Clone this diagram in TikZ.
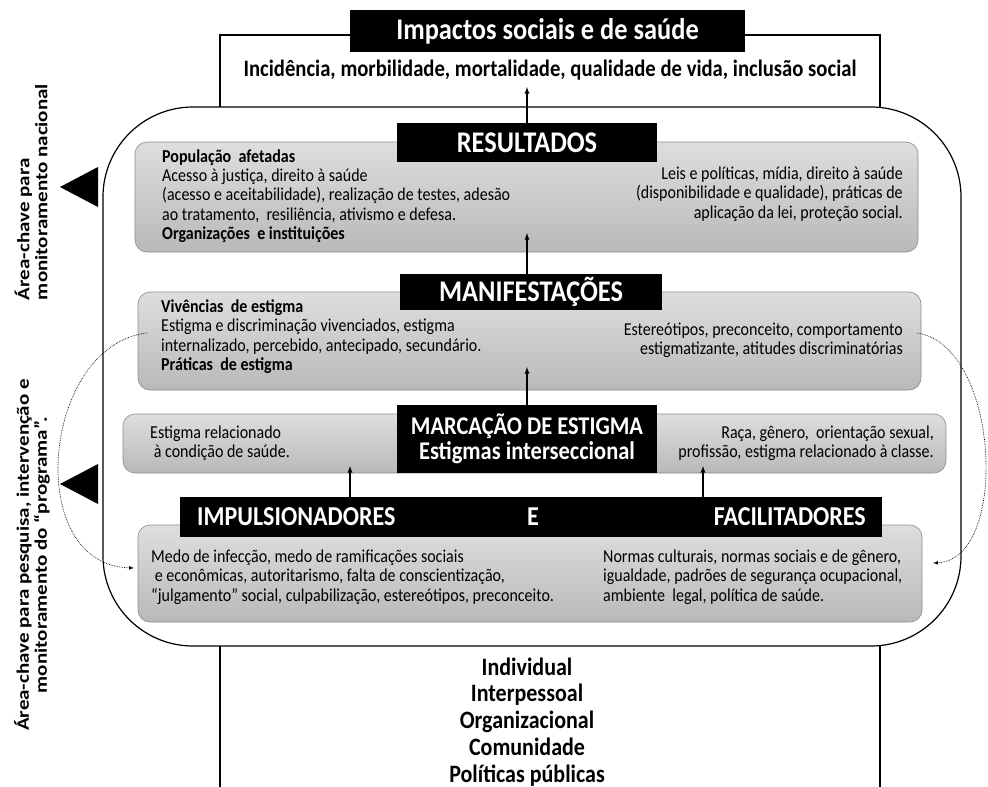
\documentclass[tikz,border=0pt]{standalone}
\usepackage{fontspec}
\setmainfont{Carlito}[FakeStretch=0.88]
\newfontfamily\sidefont{Carlito}[FakeStretch=1.2]
\usetikzlibrary{positioning}
\begin{document}
    \begin{tikzpicture}[x=1pt, y=-1pt,
        headbox/.style={fill=black, text=white, inner sep=0pt, font=\bfseries\fontsize{30}{34}\selectfont},
        graybox/.style={draw=gray!90, line width=0.6pt, rounded corners=12pt, top color=gray!26, bottom color=gray!55, inner sep=0pt},
        bodytext/.style={inner sep=0pt, font=\fontsize{18.2}{19.3}\selectfont},
        listtext/.style={inner sep=0pt, anchor=base, font=\bfseries\fontsize{25}{27}\selectfont},
        sidetext/.style={inner sep=0pt, rotate=90, font=\sidefont\bfseries\fontsize{17.5}{18}\selectfont},
        uparrow/.style={-latex, line width=1.3pt},
        dotarrow/.style={densely dotted, line width=0.7pt, -latex}]
        \useasboundingbox (0,0) rectangle (988,787);
        \def\mx{527}
        \draw[line width=1.1pt] (220,800) -- (220,35) -- (880,35) -- (880,800);
        \draw[line width=1.2pt, fill=white, rounded corners=90pt] (103,107) rectangle (961,646);
        \node[headbox, minimum width=395pt, minimum height=42pt] (impacto) at (547.5,31) {Impactos sociais e de saúde};
        \node[inner sep=0pt, font=\bfseries\fontsize{23.5}{26}\selectfont] (incid) at (550,70) {Incidência, morbilidade, mortalidade, qualidade de vida, inclusão social};
        \node[graybox, minimum width=783pt, minimum height=110pt] (resbox) at (526.5,197) {};
        \node[graybox, minimum width=783pt, minimum height=98pt] (manibox) at (529.5,341) {};
        \node[graybox, minimum width=823pt, minimum height=59pt] (marcbox) at (534.5,443.5) {};
        \node[graybox, minimum width=784pt, minimum height=97pt] (impbox) at (530,573.5) {};
        \node[headbox, minimum width=260pt, minimum height=39pt] (res) at (527,142.5) {RESULTADOS};
        \node[headbox, minimum width=262pt, minimum height=36pt] (mani) at (531,292) {MANIFESTAÇÕES};
        \node[headbox, minimum width=260pt, minimum height=68pt, align=center, font=\bfseries\fontsize{25.5}{25}\selectfont] (marc) at (527,439) {MARCAÇÃO DE ESTIGMA\\Estigmas interseccional};
        \node[headbox, minimum width=702pt, minimum height=40pt] (imp) at (531,517) {};
        \node[headbox, anchor=west, font=\bfseries\fontsize{27.3}{30}\selectfont] (impl) at (197,517) {IMPULSIONADORES};
        \node[headbox, font=\bfseries\fontsize{27.3}{30}\selectfont] (impe) at (533,517) {E};
        \node[headbox, anchor=east, font=\bfseries\fontsize{27.3}{30}\selectfont] (impr) at (866,517) {FACILITADORES};
        \node[bodytext, anchor=west, align=left] (resl) at (162,196) {\textbf{População\ \ afetadas}\\Acesso à justiça, direito à saúde\\(acesso e aceitabilidade), realização de testes, adesão\\ao tratamento,\ \ resiliência, ativismo e defesa.\\\textbf{Organizações\ \ e instituições}};
        \node[bodytext, anchor=east, align=right] (resr) at (903,194) {Leis e políticas, mídia, direito à saúde\\(disponibilidade e qualidade), práticas de\\aplicação da lei, proteção social.};
        \node[bodytext, anchor=west, align=left] (manil) at (161,336.5) {\textbf{Vivências\ \ de estigma}\\Estigma e discriminação vivenciados, estigma\\internalizado, percebido, antecipado, secundário.\\\textbf{Práticas\ \ de estigma}};
        \node[bodytext, anchor=east, align=right] (manir) at (903,340.5) {Estereótipos, preconceito, comportamento\\estigmatizante, atitudes discriminatórias};
        \node[bodytext, anchor=west, align=left] (marcl) at (150,443) {Estigma relacionado\\\ à condição de saúde.};
        \node[bodytext, anchor=east, align=right] (marcr) at (934,443) {Raça, gênero,\ \ orientação sexual,\\profissão, estigma relacionado à classe.};
        \node[bodytext, anchor=west, align=left] (impbl) at (151,577) {Medo de infecção, medo de ramificações sociais\\\ e econômicas, autoritarismo, falta de conscientização,\\“julgamento” social, culpabilização, estereótipos, preconceito.};
        \node[bodytext, anchor=west, align=left] (impbr) at (603,577) {Normas culturais, normas sociais e de gênero,\\igualdade, padrões de segurança ocupacional,\\ambiente\ \ legal, política de saúde.};
        \foreach \t [count=\i] in {Individual, Interpessoal, Organizacional, Comunidade, Políticas públicas} {
            \node[listtext] (nivel\i) at (\mx, 675 + 26.8*\i - 26.8) {\t};
        }
        \foreach \ty in {187,484} {
            \fill (60,\ty) -- (98,\ty - 20) -- (98,\ty + 20) -- cycle;
        }
        \node[sidetext, align=left] (areanac) at (31,192) {Área-chave para\\monitoramento nacional};
        \node[sidetext, align=center] (areaprog) at (32,555) {Área-chave para pesquisa, intervenção e\\monitoramento do “programa”.};
        \coordinate (incidtip) at (\mx,87);
        \coordinate (restip) at (\mx,233);
        \coordinate (manitip) at (\mx,367);
        \coordinate (marctipl) at (350,466);
        \coordinate (marctipr) at (703,466);
        \draw[uparrow] (res.north -| incidtip) -- (incidtip);
        \draw[uparrow] (mani.north -| restip) -- (restip);
        \draw[uparrow] (marc.north -| manitip) -- (manitip);
        \draw[uparrow] (imp.north -| marctipl) -- (marctipl);
        \draw[uparrow] (imp.north -| marctipr) -- (marctipr);
        \coordinate (lstart) at (147,333);
        \coordinate (lend) at (134,568);
        \coordinate (rstart) at (917,333);
        \coordinate (rend) at (933,563);
        \draw[dotarrow] (lstart) .. controls (42,345) and (22,565) .. (lend);
        \draw[dotarrow] (rstart) .. controls (1000,345) and (1010,560) .. (rend);
    \end{tikzpicture}
\end{document}
